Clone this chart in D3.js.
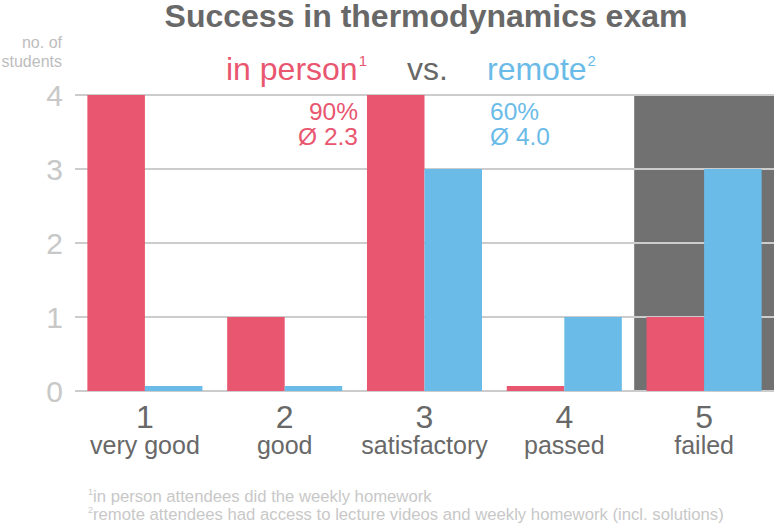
<!DOCTYPE html>
<html>
<head>
<meta charset="utf-8">
<script src="https://cdn.jsdelivr.net/npm/d3@7"></script>
<style>
  body { margin: 0; background: #fff; }
  svg { display: block; font-family: "Liberation Sans", Arial, sans-serif; }
</style>
</head>
<body>
<svg id="chart"></svg>
<script>
const grades = ["1", "2", "3", "4", "5"];
const gradeNames = ["very good", "good", "satisfactory", "passed", "failed"];
const inPerson = [4, 1, 4, 0, 1];
const remote = [0, 0, 3, 1, 3];
const yTicks = [0, 1, 2, 3, 4];
const inPersonStats = ["90%", "Ø 2.3"];
const remoteStats = ["60%", "Ø 4.0"];
const footnotes = [
  ["1", "in person attendees did the weekly homework"],
  ["2", "remote attendees had access to lecture videos and weekly homework (incl. solutions)"]
];

const width = 774, height = 525;
const red = "#e9566f", blue = "#6bbbe8", dark = "#717171";
const grid = "#cccccc", textGray = "#686868", lightText = "#c8c8c8";

const svg = d3.select("#chart").attr("width", width).attr("height", height);

const x = d3.scaleBand().domain(grades).range([75, 774]).paddingInner(0.177).paddingOuter(0.0885);
const sub = d3.scaleBand().domain(["p", "r"]).range([0, x.bandwidth()]);
const y = d3.scaleLinear().domain([0, 4]).range([391, 95]);

// shaded "failed" region
const gap = x.step() - x.bandwidth();
svg.append("rect")
  .attr("x", x("5") - gap / 2)
  .attr("y", y(4))
  .attr("width", 774 - (x("5") - gap / 2))
  .attr("height", y(0) - y(4))
  .attr("fill", dark);

// gridlines
svg.append("g").selectAll("line")
  .data(yTicks)
  .join("line")
  .attr("x1", 75).attr("x2", 774)
  .attr("y1", d => y(d)).attr("y2", d => y(d))
  .attr("stroke", grid).attr("stroke-width", 2);

// y tick labels
svg.append("g").selectAll("text")
  .data(yTicks)
  .join("text")
  .attr("x", 63).attr("y", d => y(d) + 10.5)
  .attr("text-anchor", "end")
  .attr("font-size", 30)
  .attr("fill", lightText)
  .text(d => d);

// bars (zero values drawn as thin stub)
const minH = 5;
const barData = grades.flatMap((g, i) => [
  { g, k: "p", v: inPerson[i], c: red },
  { g, k: "r", v: remote[i], c: blue }
]);
svg.append("g").selectAll("rect")
  .data(barData)
  .join("rect")
  .attr("x", d => x(d.g) + sub(d.k))
  .attr("width", sub.bandwidth())
  .attr("y", d => Math.min(y(d.v), y(0) - minH))
  .attr("height", d => Math.max(y(0) - y(d.v), minH))
  .attr("fill", d => d.c);

// title
svg.append("text")
  .attr("x", 426).attr("y", 27)
  .attr("text-anchor", "middle")
  .attr("font-size", 32).attr("font-weight", "bold")
  .attr("fill", textGray)
  .text("Success in thermodynamics exam");

// y axis label
svg.append("text")
  .attr("text-anchor", "end").attr("font-size", 16).attr("fill", "#bdbdbd")
  .selectAll("tspan")
  .data(["no. of", "students"])
  .join("tspan")
  .attr("x", 62).attr("y", (d, i) => 48 + i * 19)
  .text(d => d);

// legend
const c3 = x("3") + x.bandwidth() / 2;
const leg1 = svg.append("text")
  .attr("x", 226).attr("y", 80)
  .attr("font-size", 32).attr("fill", red);
leg1.append("tspan").text("in person");
leg1.append("tspan").attr("font-size", 15).attr("dx", 1).attr("dy", -14).text("1");

svg.append("text")
  .attr("x", c3 + 3).attr("y", 80).attr("text-anchor", "middle")
  .attr("font-size", 32).attr("fill", textGray).text("vs.");

const leg2 = svg.append("text")
  .attr("x", 487).attr("y", 80)
  .attr("font-size", 32).attr("fill", blue);
leg2.append("tspan").text("remote");
leg2.append("tspan").attr("font-size", 15).attr("dx", 1).attr("dy", -14).text("2");

// stats annotations
svg.append("g").selectAll("text")
  .data(inPersonStats)
  .join("text")
  .attr("x", x("3") - 9).attr("y", (d, i) => 120 + i * 25)
  .attr("text-anchor", "end")
  .attr("font-size", 24.5).attr("fill", red)
  .text(d => d);

svg.append("g").selectAll("text")
  .data(remoteStats)
  .join("text")
  .attr("x", x("3") + x.bandwidth() + 8).attr("y", (d, i) => 120 + i * 25)
  .attr("font-size", 24.5).attr("fill", blue)
  .text(d => d);

// x labels
const xl = svg.append("g").selectAll("g")
  .data(grades)
  .join("g")
  .attr("transform", d => `translate(${x(d) + x.bandwidth() / 2},0)`);
xl.append("text")
  .attr("y", 428).attr("text-anchor", "middle")
  .attr("font-size", 32).attr("fill", textGray)
  .text(d => d);
xl.append("text")
  .attr("y", 454).attr("text-anchor", "middle")
  .attr("font-size", 25).attr("fill", textGray)
  .text((d, i) => gradeNames[i]);

// footnotes
footnotes.forEach(([n, t], i) => {
  const ft = svg.append("text")
    .attr("x", 88).attr("y", 502 + i * 17.5)
    .attr("font-size", 16.7).attr("fill", lightText);
  ft.append("tspan").attr("font-size", 9).attr("dy", -7).text(n);
  ft.append("tspan").attr("dy", 7).text(t);
});
</script>
</body>
</html>
